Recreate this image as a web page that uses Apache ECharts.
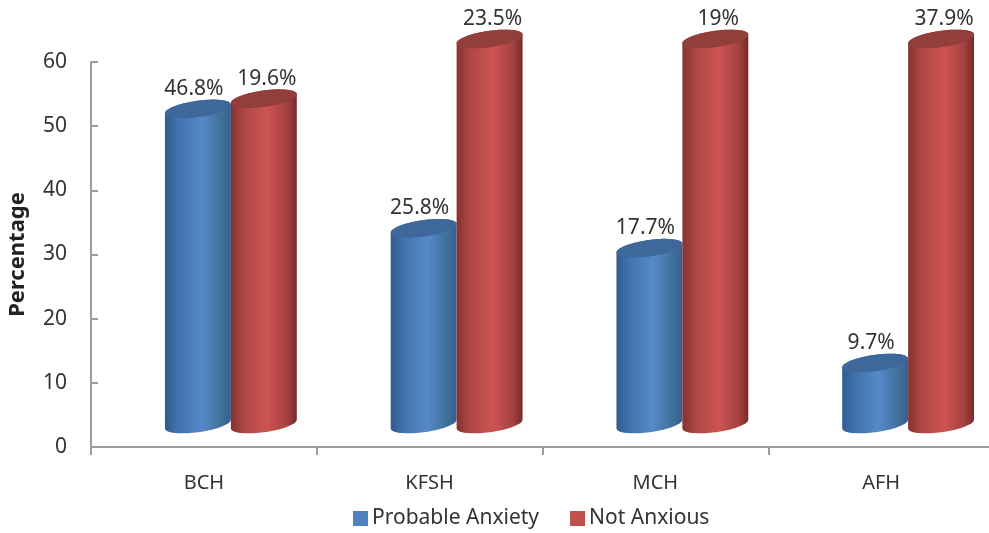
<!DOCTYPE html>
<html>
<head>
<meta charset="utf-8">
<style>html,body{margin:0;padding:0;background:#fff}#chart{width:989px;height:533px}</style>
<script src="https://cdn.jsdelivr.net/npm/echarts@6/dist/echarts.min.js"></script>
</head>
<body>
<div id="chart"></div>
<script>
// Hospitals and the two groups compared at each one
const categories = ['BCH', 'KFSH', 'MCH', 'AFH'];
const probableAnxiety = [49.1, 30.5, 27.4, 9.5];
const notAnxious = [50.7, 60, 60, 60];
const probableAnxietyLabels = ['46.8%', '25.8%', '17.7%', '9.7%'];
const notAnxiousLabels = ['19.6%', '23.5%', '19%', '37.9%'];
const yTicks = { min: 0, max: 60, interval: 10 };

const FONT = '"Noto Sans", sans-serif';
const TEXT = '#333333';
const AXIS = '#9c9c9c';

// The cylinders stand on a floor set back from the axes
const DEPTH_X = 27;
const DEPTH_Y = 23;
const BAR_SHARE = 0.292;
const MINOR = 8.2;
const TILT = 8 * Math.PI / 180;

const palettes = {
  blue: {
    stops: [[0, '#2f5b8e'], [0.2, '#4373ad'], [0.55, '#5589cb'], [0.82, '#44739f'], [1, '#355f90']],
    top: '#3e6899'
  },
  red: {
    stops: [[0, '#843230'], [0.2, '#ae4744'], [0.55, '#cd5453'], [0.85, '#a54240'], [1, '#742b2a']],
    top: '#923e3b'
  }
};

// Arc of a tilted ellipse, from param t1 to t2
function arc(cx, cy, a, b, t1, t2, n) {
  const pts = [];
  for (let i = 0; i <= n; i++) {
    const t = t1 + (t2 - t1) * i / n;
    pts.push([
      cx + a * Math.cos(t) * Math.cos(TILT) + b * Math.sin(t) * Math.sin(TILT),
      cy - a * Math.cos(t) * Math.sin(TILT) + b * Math.sin(t) * Math.cos(TILT)
    ]);
  }
  return pts;
}

function cylinder(palette, side, texts, labelShift) {
  return function (params, api) {
    const band = api.size([1, 0])[0];
    const w = band * BAR_SHARE;
    const base = api.coord([api.value(0), 0]);
    const head = api.coord([api.value(0), api.value(1)]);
    const cx = base[0] + DEPTH_X + side * w / 2;
    const yBase = base[1] - DEPTH_Y;
    const yTop = head[1] - DEPTH_Y;

    const a = Math.sqrt((w * w / 4 - MINOR * MINOR * Math.sin(TILT) ** 2)) / Math.cos(TILT);
    const t0 = Math.atan2(MINOR * Math.sin(TILT), a * Math.cos(TILT));

    const body = arc(cx, yBase, a, MINOR, t0, t0 + Math.PI, 40)
      .concat(arc(cx, yTop, a, MINOR, t0 + Math.PI, t0 + 2 * Math.PI, 40));
    const lid = arc(cx, yTop, a, MINOR, 0, 2 * Math.PI, 80);

    return {
      type: 'group',
      children: [
        {
          type: 'polygon',
          shape: { points: body },
          style: {
            fill: new echarts.graphic.LinearGradient(0, 0, 1, 0,
              palette.stops.map(s => ({ offset: s[0], color: s[1] })))
          }
        },
        { type: 'polygon', shape: { points: lid }, style: { fill: palette.top } },
        {
          type: 'text',
          style: {
            text: texts[params.dataIndex],
            x: cx + labelShift,
            y: yTop - 20,
            align: 'center',
            verticalAlign: 'middle',
            fill: TEXT,
            font: '21px ' + FONT
          }
        }
      ]
    };
  };
}

function pairs(values) {
  return values.map((v, i) => [i, v]);
}

const chart = echarts.init(document.getElementById('chart'), null, { renderer: 'canvas' });
chart.setOption({
  animation: false,
  backgroundColor: '#ffffff',
  grid: { left: 91, right: -5, top: 62, bottom: 86, containLabel: false, outerBoundsMode: 'none' },
  legend: {
    left: 348,
    top: 503,
    itemWidth: 15,
    itemHeight: 15,
    itemGap: 31,
    icon: 'rect',
    textStyle: { fontFamily: FONT, fontSize: 21, color: TEXT, padding: [0, 0, 0, -1] },
    data: ['Probable Anxiety', 'Not Anxious']
  },
  xAxis: {
    type: 'category',
    data: categories,
    boundaryGap: true,
    axisLine: { lineStyle: { color: AXIS, width: 2 } },
    axisTick: { show: true, length: 8, alignWithLabel: false, lineStyle: { color: AXIS, width: 2 } },
    axisLabel: { fontFamily: FONT, fontSize: 20, color: TEXT, margin: 26 }
  },
  yAxis: {
    type: 'value',
    min: yTicks.min,
    max: yTicks.max,
    interval: yTicks.interval,
    name: 'Percentage',
    nameLocation: 'middle',
    nameGap: 62,
    nameRotate: 90,
    nameTextStyle: { fontFamily: FONT, fontSize: 22, fontWeight: 'bold', color: '#222222' },
    splitLine: { show: false },
    axisLine: { show: true, lineStyle: { color: AXIS, width: 2 } },
    axisTick: { show: true, inside: true, length: 7, lineStyle: { color: AXIS, width: 2 } },
    axisLabel: { fontFamily: FONT, fontSize: 21, color: TEXT, margin: 24, padding: [4, 0, 0, 0] }
  },
  series: [
    {
      name: 'Probable Anxiety',
      type: 'custom',
      clip: false,
      itemStyle: { color: '#4f81bd' },
      encode: { x: 0, y: 1 },
      data: pairs(probableAnxiety),
      renderItem: cylinder(palettes.blue, -1, probableAnxietyLabels, -4)
    },
    {
      name: 'Not Anxious',
      type: 'custom',
      clip: false,
      itemStyle: { color: '#c0504d' },
      encode: { x: 0, y: 1 },
      data: pairs(notAnxious),
      renderItem: cylinder(palettes.red, 1, notAnxiousLabels, 3)
    }
  ]
});
</script>
</body>
</html>
